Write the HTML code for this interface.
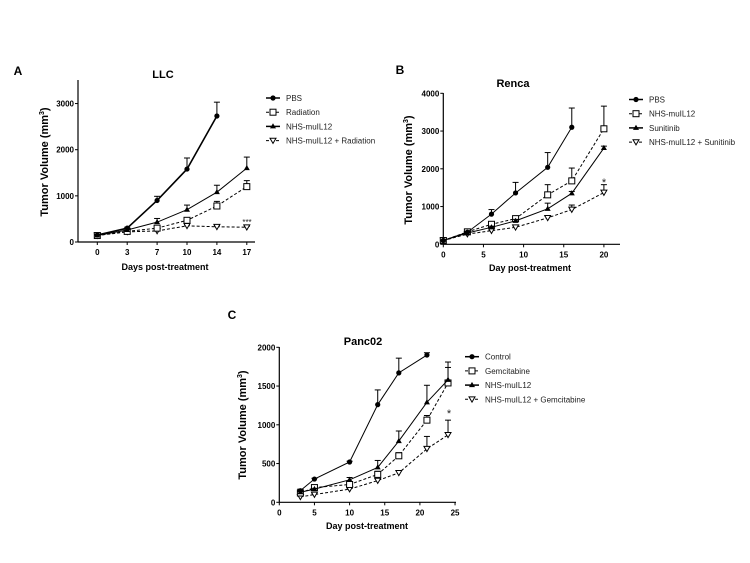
<!DOCTYPE html>
<html><head><meta charset="utf-8"><style>
body{margin:0;background:#fff;}
svg{display:block;font-family:"Liberation Sans",Arial,sans-serif;}
.tk{font-size:8px;font-weight:bold;}
.lg{font-size:8px;fill:#222;}
.tt{font-size:11px;font-weight:bold;}
.ax{font-size:9px;font-weight:bold;}
.pl{font-size:12px;font-weight:bold;}
</style></head><body>
<svg id="fig" width="750" height="563" viewBox="0 0 750 563"></svg>
<script>
// Panel A (LLC)
const aDays=["0","3","7","10","14","17"];
const aYTicks=[0,1000,2000,3000];
const aPBS=[150,300,900,1580,2730];
const aPBSErr=[160,320,990,1820,3030];
const aRad=[140,230,300,470,780,1200];
const aRadErr=[150,250,340,520,880,1330];
const aNHS=[140,260,430,700,1080,1600];
const aNHSErr=[150,280,510,800,1230,1840];
const aCombo=[140,220,240,350,330,320];
const aComboErr=[150,230,260,370,350,340];
// Panel B (Renca)
const bDays=[0,3,6,9,13,16,20];
const bXTicks=[0,5,10,15,20];
const bYTicks=[0,1000,2000,3000,4000];
const bPBS=[100,320,800,1360,2040,3100];
const bPBSErr=[110,340,920,1640,2430,3610];
const bNHS=[100,330,530,680,1310,1680,3060];
const bNHSErr=[110,350,560,720,1580,2020,3660];
const bSun=[100,300,450,620,940,1350,2550];
const bSunErr=[110,320,480,660,1090,1400,2600];
const bCombo=[100,270,360,450,700,920,1370];
const bComboErr=[110,290,380,480,740,1040,1580];
// Panel C (Panc02)
const cDays=[3,5,10,14,17,21,24];
const cXTicks=[0,5,10,15,20,25];
const cYTicks=[0,500,1000,1500,2000];
const cCtrl=[150,300,520,1260,1670,1900];
const cCtrlErr=[170,310,530,1450,1860,1930];
const cGem=[120,190,230,360,600,1060,1540];
const cGemErr=[130,200,250,400,640,1120,1810];
const cNHS=[130,170,290,450,790,1290,1580];
const cNHSErr=[140,180,320,540,920,1510,1740];
const cCombo=[70,100,170,280,380,690,870];
const cComboErr=[80,110,180,300,410,850,1060];

const svg=document.getElementById('fig');
const NS='http://www.w3.org/2000/svg';
function mk(tag,attrs,parent){const e=document.createElementNS(NS,tag);for(const k in attrs)e.setAttribute(k,attrs[k]);(parent||svg).appendChild(e);return e;}
function txt(x,y,s,cls,anchor,parent){const t=mk('text',{x:x,y:y,class:cls,'text-anchor':anchor||'middle'},parent);t.textContent=s;return t;}
function marker(g,type,x,y){
  if(type==='circle'){const m=mk('circle',{cx:x,cy:y,r:2.6,fill:'#000'},g);}
  else if(type==='square'){const m=mk('rect',{x:x-3,y:y-3,width:6,height:6,fill:'#fff',stroke:'#000','stroke-width':1},g);}
  else if(type==='tri'){const m=mk('polygon',{points:`${x},${y-3.2} ${x-3},${y+2} ${x+3},${y+2}`,fill:'#000'},g);}
  else {const m=mk('polygon',{points:`${x-3},${y-2.4} ${x+3},${y-2.4} ${x},${y+2.8}`,fill:'#fff',stroke:'#000','stroke-width':1},g);}
}
function series(name,xs,vals,errs,type,dash,sx,sy,w){
  const g=mk('g',{});
  
  
  const pts=vals.map((v,i)=>sx(xs[i])+','+sy(v)).join(' ');
  mk('polyline',{points:pts,fill:'none',stroke:'#000','stroke-width':w||1,'stroke-dasharray':dash?'3,2':'none'},g);
  vals.forEach((v,i)=>{
    const x=sx(xs[i]),y0=sy(v),y1=sy(errs[i]);
    mk('line',{x1:x,y1:y0,x2:x,y2:y1,stroke:'#000','stroke-width':1},g);
    mk('line',{x1:x-3,y1:y1,x2:x+3,y2:y1,stroke:'#000','stroke-width':1},g);
    marker(g,type,x,y0);
  });
}
function axes(name,x0,y0,x1,yTop,yt,sy,xt,sx,xl){
  const g=mk('g',{});
  
  
  mk('line',{x1:x0,y1:y0,x2:x0,y2:yTop,stroke:'#000','stroke-width':1.2},g);
  mk('line',{x1:x0,y1:y0,x2:x1,y2:y0,stroke:'#000','stroke-width':1.2},g);
  yt.forEach(v=>{mk('line',{x1:x0-3,y1:sy(v),x2:x0,y2:sy(v),stroke:'#000'},g);txt(x0-4,sy(v)+3,String(v),'tk','end',g);});
  xt.forEach((v,i)=>{const x=sx(v,i);mk('line',{x1:x,y1:y0,x2:x,y2:y0+3,stroke:'#000'},g);txt(x,y0+13,xl?xl[i]:String(v),'tk','middle',g);});
}
function legend(name,x,y,items){
  const g=mk('g',{});
  
  
  items.forEach((it,i)=>{
    const yy=y+i*14.2;
    mk('line',{x1:x,y1:yy,x2:x+14,y2:yy,stroke:'#000','stroke-width':it[2]?1:1.5,'stroke-dasharray':it[2]?'3,2':'none'},g);
    marker(g,it[1],x+7,yy);
    txt(x+20,yy+3,it[0],'lg','start',g);
  });
}
function ylabel(x,y,parent){const t=mk('text',{x:0,y:0,class:'ax','text-anchor':'middle',transform:`translate(${x},${y}) rotate(-90)`,style:'font-size:11px'});t.innerHTML='Tumor Volume (mm<tspan dy="-4" style="font-size:7px">3</tspan><tspan dy="4">)</tspan>';return t;}

// ---- Panel A
const aSx=i=>97.3+i*29.9, aSy=v=>242-v*0.04615;
const aIdx=aDays.map((d,i)=>i);
axes('axes-llc',78,242,255,80,aYTicks,aSy,aIdx,(v,i)=>aSx(i),aDays);
series('series-llc-combo',aIdx,aCombo,aComboErr,'inv',true,aSx,aSy);
series('series-llc-radiation',aIdx,aRad,aRadErr,'square',true,aSx,aSy);
series('series-llc-nhs',aIdx,aNHS,aNHSErr,'tri',false,aSx,aSy);
series('series-llc-pbs',aIdx,aPBS,aPBSErr,'circle',false,aSx,aSy,1.6);
txt(247,225,'***','lg');
txt(163,78,'LLC','tt');
txt(18,75,'A','pl');
txt(165,270,'Days post-treatment','ax');
ylabel(48,162);
legend('legend-llc',266,98,[['PBS','circle',false],['Radiation','square',true],['NHS-muIL12','tri',false],['NHS-muIL12 + Radiation','inv',true]]);

// ---- Panel B
const bSx=v=>443.3+v*8.03, bSy=v=>244.3-v*0.03775;
axes('axes-renca',443.3,244.3,620,93,bYTicks,bSy,bXTicks,v=>bSx(v));
series('series-renca-combo',bDays,bCombo,bComboErr,'inv',true,bSx,bSy);
series('series-renca-nhs',bDays,bNHS,bNHSErr,'square',true,bSx,bSy);
series('series-renca-sunitinib',bDays,bSun,bSunErr,'tri',false,bSx,bSy);
series('series-renca-pbs',bDays,bPBS,bPBSErr,'circle',false,bSx,bSy);
txt(604,186,'*','lg').setAttribute('style','font-size:11px');
txt(513,87,'Renca','tt');
txt(400,74,'B','pl');
txt(530,271,'Day post-treatment','ax');
ylabel(412,170);
legend('legend-renca',629,99.5,[['PBS','circle',false],['NHS-muIL12','square',true],['Sunitinib','tri',false],['NHS-muIL12 + Sunitinib','inv',true]]);

// ---- Panel C
const cSx=v=>279.3+v*7.03, cSy=v=>502.3-v*0.0775;
axes('axes-panc02',279.3,502.3,456,347,cYTicks,cSy,cXTicks,v=>cSx(v));
series('series-panc02-combo',cDays,cCombo,cComboErr,'inv',true,cSx,cSy);
series('series-panc02-gemcitabine',cDays,cGem,cGemErr,'square',true,cSx,cSy);
series('series-panc02-nhs',cDays,cNHS,cNHSErr,'tri',false,cSx,cSy);
series('series-panc02-control',cDays,cCtrl,cCtrlErr,'circle',false,cSx,cSy);
txt(449,417,'*','lg').setAttribute('style','font-size:11px');
txt(363,345,'Panc02','tt');
txt(232,319,'C','pl');
txt(367,529,'Day post-treatment','ax');
ylabel(246,425);
legend('legend-panc02',465,356.7,[['Control','circle',false],['Gemcitabine','square',true],['NHS-muIL12','tri',false],['NHS-muIL12 + Gemcitabine','inv',true]]);
</script>
</body></html>
